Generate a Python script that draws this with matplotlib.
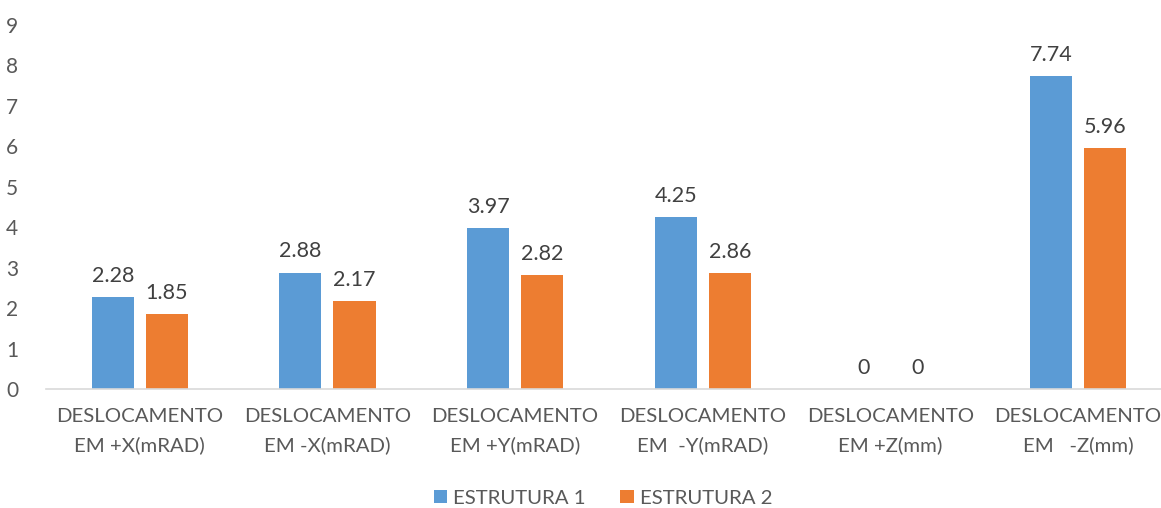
import matplotlib
matplotlib.use("Agg")
import matplotlib.pyplot as plt
import numpy as np

categories = ["DESLOCAMENTO\nEM +X(mRAD)", "DESLOCAMENTO\nEM -X(mRAD)", "DESLOCAMENTO\nEM +Y(mRAD)",
              "DESLOCAMENTO\nEM  -Y(mRAD)", "DESLOCAMENTO\nEM +Z(mm)", "DESLOCAMENTO\nEM   -Z(mm)"]
estrutura1 = [2.28, 2.88, 3.97, 4.25, 0, 7.74]
estrutura2 = [1.85, 2.17, 2.82, 2.86, 0, 5.96]
series_names = ["ESTRUTURA 1", "ESTRUTURA 2"]
yticks = list(range(0, 10))

plt.rcParams['font.family'] = ['Lato', 'DejaVu Sans']
txt = '#595959'
c1, c2 = '#5B9BD5', '#ED7D31'
fs = 14.7

fig = plt.figure(figsize=(11.61, 5.08), dpi=100)
ax = fig.add_axes([46/1161, 1-389/508, 1-46/1161, (389-25)/508])
x = np.arange(len(categories))
w = 0.224
off = 0.144
b1 = ax.bar(x - off, estrutura1, w, color=c1, label=series_names[0])
b2 = ax.bar(x + off, estrutura2, w, color=c2, label=series_names[1])
for bars, vals in ((b1, estrutura1), (b2, estrutura2)):
    for r, v in zip(bars, vals):
        ax.annotate(f"{v:g}", (r.get_x() + r.get_width()/2, v), xytext=(0, 8),
                    textcoords='offset points', ha='center', va='bottom',
                    fontsize=15.5, color='#404040')

ax.set_xlim(-0.5, 5.442)
ax.set_ylim(0, 9)
ax.set_yticks(yticks)
ax.set_xticks(x)
ax.set_xticklabels(categories, fontsize=fs, color=txt, linespacing=1.75)
ax.tick_params(axis='y', length=0, labelsize=15, labelcolor=txt, pad=20)
ax.tick_params(axis='x', length=0, pad=14)
for s in ('top', 'right', 'left'):
    ax.spines[s].set_visible(False)
ax.spines['bottom'].set_color('#D9D9D9')
ax.spines['bottom'].set_linewidth(1.2)

leg = fig.legend(handles=[b1, b2], loc='center', bbox_to_anchor=(603/1161, 1-498/508), ncol=2,
                 frameon=False, fontsize=fs, handlelength=0.65, handleheight=0.65,
                 handletextpad=0.3, columnspacing=1.7)
for t in leg.get_texts():
    t.set_color(txt)

fig.savefig("out.png", dpi=100)
